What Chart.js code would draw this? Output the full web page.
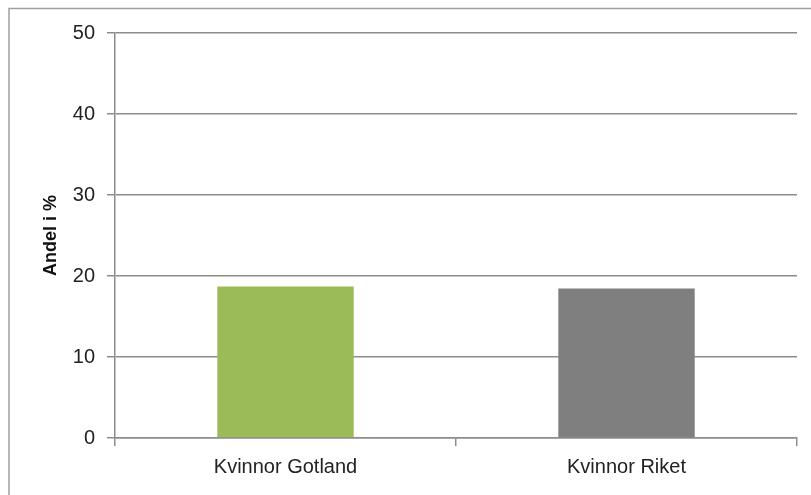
<!DOCTYPE html>
<html lang="sv">
<head>
    <meta charset="UTF-8">
    <title>Andel i %</title>
    <script src="https://cdn.jsdelivr.net/npm/chart.js"></script>
    <style>
        body { margin: 0; background: #fff; }
    </style>
</head>
<body>
    <canvas id="chart" width="811" height="495"></canvas>

    <script>
        // Chart data
        const categories = ['Kvinnor Gotland', 'Kvinnor Riket'];
        const shares = [18.7, 18.45];
        const barColors = ['#9BBB59', '#7F7F7F'];
        const yTicks = [0, 10, 20, 30, 40, 50];

        const gridGray = '#8c8c8c';

        // thin frame around the whole chart, like the spreadsheet chart box
        const frame = {
            id: 'frame',
            beforeDraw(chart) {
                const ctx = chart.ctx;
                ctx.save();
                ctx.strokeStyle = '#a0a0a0';
                ctx.lineWidth = 1.5;
                ctx.beginPath();
                ctx.moveTo(9, chart.height + 2);
                ctx.lineTo(9, 8.5);
                ctx.lineTo(chart.width + 2, 8.5);
                ctx.stroke();
                ctx.restore();
            }
        };

        new Chart(document.getElementById('chart'), {
            type: 'bar',
            data: {
                labels: categories,
                datasets: [{
                    data: shares,
                    backgroundColor: barColors,
                    borderWidth: 0,
                    barPercentage: 0.4,
                    categoryPercentage: 1
                }]
            },
            options: {
                responsive: false,
                animation: false,
                layout: { padding: { left: 0, top: 33, right: 14, bottom: 0 } },
                plugins: {
                    legend: { display: false },
                    tooltip: { enabled: false }
                },
                scales: {
                    x: {
                        offset: true,
                        grid: {
                            offset: true,
                            drawOnChartArea: false,
                            tickLength: 8,
                            color: gridGray,
                            lineWidth: 1.5
                        },
                        border: { color: gridGray, width: 1.5 },
                        ticks: {
                            padding: 9,
                            color: '#222',
                            font: { family: 'Liberation Sans', size: 20 }
                        },
                        afterFit(scale) { scale.height = 57; }
                    },
                    y: {
                        min: 0,
                        max: 50,
                        afterBuildTicks(scale) {
                            scale.ticks = yTicks.map(v => ({ value: v }));
                        },
                        grid: {
                            color: gridGray,
                            lineWidth: 1.5,
                            tickLength: 8
                        },
                        border: { color: gridGray, width: 1.5 },
                        ticks: {
                            padding: 12,
                            color: '#222',
                            font: { family: 'Liberation Sans', size: 20 }
                        },
                        title: {
                            display: true,
                            text: 'Andel i %',
                            color: '#111',
                            padding: { top: 40, bottom: 0 },
                            font: { family: 'Liberation Sans', size: 18, weight: 'bold' }
                        },
                        afterFit(scale) { scale.width = 115; }
                    }
                }
            },
            plugins: [frame]
        });
    </script>
</body>
</html>
